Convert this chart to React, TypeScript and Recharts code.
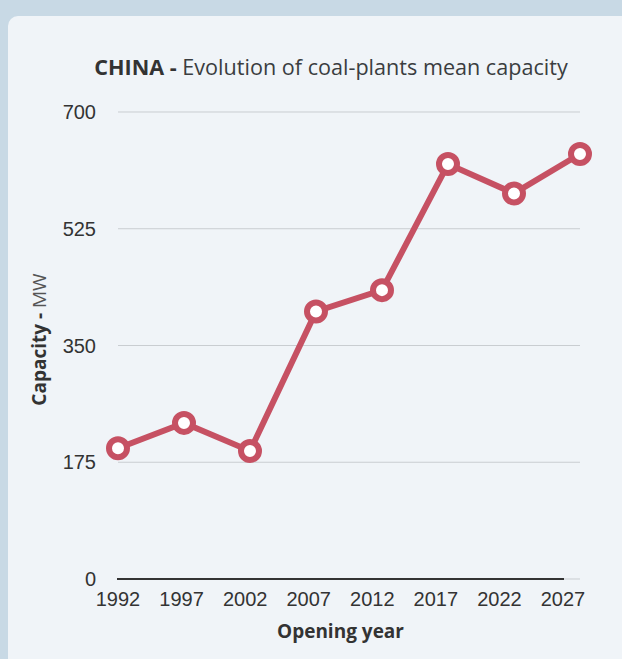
import React from "react";
import {
  LineChart,
  Line,
  XAxis,
  YAxis,
  CartesianGrid,
  ReferenceLine,
} from "recharts";

// Opening-year buckets and mean capacity (MW) of coal plants in China
const years = ["1992", "1997", "2002", "2007", "2012", "2017", "2022", "2027"];
const meanCapacity = [196, 234, 192, 401, 433, 622, 578, 637];

// Axis ticks
const yearTicks = [1992, 1997, 2002, 2007, 2012, 2017, 2022, 2027];
const capacityTicks = [0, 175, 350, 525, 700];

const data = years.map((year, i) => ({
  year,
  yearNum: Number(year),
  capacity: meanCapacity[i],
}));

const LINE_COLOR = "#c65163";
const TEXT_COLOR = "#333333";
const LABEL_FONT = "'Open Sans', 'Noto Sans', sans-serif";
const TICK_FONT = "'Liberation Sans', Arial, sans-serif";

const YAxisTitle = (props: any) => {
  const vb = props.viewBox || { x: 0, y: 0, width: 0, height: 0 };
  const cx = vb.x + 36;
  const cy = vb.y + vb.height / 2 - 6;
  return (
    <text
      x={cx}
      y={cy}
      transform={`rotate(-90, ${cx}, ${cy})`}
      textAnchor="middle"
      fontFamily={LABEL_FONT}
      fontSize={19}
      fill={TEXT_COLOR}
    >
      <tspan fontWeight={700}>Capacity - </tspan>
      <tspan fontWeight={400} fill="#555">MW</tspan>
    </text>
  );
};

const XAxisTitle = (props: any) => {
  const vb = props.viewBox || { x: 0, y: 0, width: 0, height: 0 };
  const cx = vb.x + (vb.width - 17) / 2;
  return (
    <text
      x={cx}
      y={vb.y + 59}
      textAnchor="middle"
      fontFamily={LABEL_FONT}
      fontSize={19}
      fontWeight={700}
      fill={TEXT_COLOR}
    >
      Opening year
    </text>
  );
};

export default function App() {
  return (
    <div
      style={{
        position: "absolute",
        left: 0,
        top: 0,
        width: 622,
        height: 659,
        background: "#c8d9e5",
        overflow: "hidden",
      }}
    >
      <div
        style={{
          position: "absolute",
          left: 8,
          top: 16,
          width: 640,
          height: 680,
          background: "#f0f4f8",
          borderRadius: 10,
        }}
      />
      <div
        style={{
          position: "absolute",
          left: 0,
          top: 53,
          width: 662,
          textAlign: "center",
          fontFamily: LABEL_FONT,
          fontSize: 21.6,
          lineHeight: "28px",
          color: "#3a3d40",
          whiteSpace: "nowrap",
        }}
      >
        <span style={{ fontWeight: 700, color: TEXT_COLOR }}>CHINA - </span>
        <span style={{ fontWeight: 400 }}>Evolution of coal-plants mean capacity</span>
      </div>
      <div style={{ position: "absolute", left: 0, top: 0 }}>
        <LineChart
          width={622}
          height={659}
          data={data}
          margin={{ top: 112, right: 42, bottom: 50, left: 10 }}
        >
          <CartesianGrid
            xAxisId="data"
            horizontal
            vertical={false}
            stroke="#c9cdd1"
            strokeWidth={1}
          />
          <XAxis xAxisId="data" dataKey="year" hide height={0} />
          <XAxis
            xAxisId="ticks"
            dataKey="yearNum"
            type="number"
            domain={[1992, 2027]}
            ticks={yearTicks}
            padding={{ left: 0, right: 17 }}
            height={30}
            axisLine={false}
            tickLine={false}
            tickSize={6}
            tickMargin={7}
            interval={0}
            tick={{ fill: TEXT_COLOR, fontSize: 20, fontFamily: TICK_FONT }}
            label={{ content: XAxisTitle }}
          />
          <YAxis
            domain={[0, 700]}
            ticks={capacityTicks}
            width={108}
            axisLine={false}
            tickLine={false}
            tickSize={6}
            tickMargin={16}
            interval={0}
            tick={{ fill: TEXT_COLOR, fontSize: 20, fontFamily: TICK_FONT }}
            label={{ content: YAxisTitle }}
          />
          <ReferenceLine
            xAxisId="ticks"
            segment={[
              { x: 1992, y: 0 },
              { x: 2027, y: 0 },
            ]}
            stroke="#333"
            strokeWidth={2}
            strokeLinecap="square"
            ifOverflow="visible"
          />
          <Line
            xAxisId="data"
            type="linear"
            dataKey="capacity"
            stroke={LINE_COLOR}
            strokeWidth={6}
            dot={{ r: 9, strokeWidth: 6, fill: "#ffffff", stroke: LINE_COLOR }}
            activeDot={false}
            isAnimationActive={false}
          />
        </LineChart>
      </div>
    </div>
  );
}
